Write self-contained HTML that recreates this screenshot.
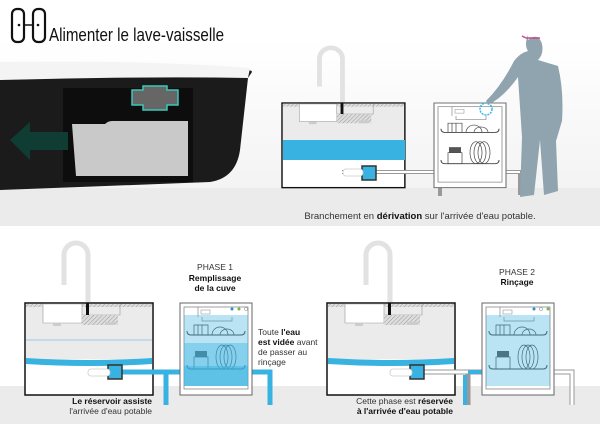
<!DOCTYPE html>
<html><head><meta charset="utf-8"><style>
body{margin:0;width:600px;height:424px;overflow:hidden;background:#fff;font-family:"Liberation Sans",sans-serif}
</style></head><body>
<svg width="600" height="424" viewBox="0 0 600 424" xmlns="http://www.w3.org/2000/svg" font-family="Liberation Sans, sans-serif">
<defs>
<pattern id="h" width="3" height="3" patternUnits="userSpaceOnUse" patternTransform="rotate(45)"><rect width="3" height="3" fill="#ddd"/><line x1="0" y1="0" x2="0" y2="3" stroke="#888" stroke-width="0.8"/></pattern>
<linearGradient id="bg" x1="0" y1="0" x2="0" y2="1"><stop offset="0" stop-color="#fff"/><stop offset="1" stop-color="#f3f3f3"/></linearGradient>
<g id="sink">
 <path d="M63,2 V-48 a12,12 0 0 0 -24,0 V-18" fill="none" stroke="#e2e2e2" stroke-width="5"/>
 <rect x="0" y="0" width="128" height="92" fill="#fff" stroke="#111" stroke-width="1.5"/>
 <path d="M1,1 H127 V60 Q64,52 1,60 Z" fill="#ebebeb"/>
 <rect x="1" y="1" width="126" height="3" fill="url(#h)"/>
 <path d="M18,1 V20 H57 V1 Z" fill="#fff" stroke="#999" stroke-width="0.6"/>
 <path d="M57,12 H95 V1" fill="none" stroke="#999" stroke-width="0.6"/>
 <rect x="57" y="12" width="36" height="10" fill="url(#h)"/>
 <rect x="61" y="0" width="3" height="12" fill="#111"/>
 <rect x="28" y="20" width="8" height="3" fill="#ccc"/><rect x="80" y="19" width="10" height="3" fill="#ccc"/>
</g>
<g id="dw">
 <rect x="0" y="0" width="72" height="92" fill="#fff" stroke="#666" stroke-width="1"/>
 <rect x="4" y="4" width="64" height="82" fill="none" stroke="#888" stroke-width="0.8"/>
 <line x1="18" y1="4" x2="18" y2="14" stroke="#888" stroke-width="0.7"/>
 <rect x="21" y="7" width="9" height="4" fill="none" stroke="#999" stroke-width="0.6"/>
 <path d="M22,14 v4 h30 v-4" fill="none" stroke="#888" stroke-width="0.7"/>
 <path d="M7,28 q0,4 4,4 h50 q4,0 4,-4 M7,62 q0,4 4,4 h50 q4,0 4,-4" fill="none" stroke="#444" stroke-width="1"/>
 <path d="M14,32 v-10 h14 v10 M18,22 v10 M22,22 v10" fill="none" stroke="#444" stroke-width="0.7"/>
 <path d="M32,32 a8,8 0 0 1 16,0 M40,32 a7,6 0 0 1 14,0" fill="none" stroke="#444" stroke-width="0.7"/>
 <rect x="14" y="54" width="14" height="12" fill="none" stroke="#444" stroke-width="0.7"/>
 <rect x="15" y="48" width="12" height="6" fill="#555"/>
 <ellipse cx="42" cy="54" rx="6" ry="12" fill="none" stroke="#444" stroke-width="0.7"/>
 <ellipse cx="46" cy="54" rx="6" ry="12" fill="none" stroke="#444" stroke-width="0.7"/>
 <ellipse cx="50" cy="54" rx="6" ry="12" fill="none" stroke="#444" stroke-width="0.7"/>
</g>
</defs>
<rect x="0" y="40" width="600" height="150" fill="url(#bg)"/>
<rect x="0" y="188" width="600" height="38" fill="#ebebeb"/>
<rect x="0" y="386" width="600" height="38" fill="#ebebeb"/>
<!-- title -->
<rect x="12" y="9" width="12" height="33" rx="5" fill="none" stroke="#111" stroke-width="2.2"/>
<rect x="33" y="9" width="12" height="33" rx="5" fill="none" stroke="#111" stroke-width="2.2"/>
<line x1="24" y1="25" x2="33" y2="25" stroke="#111" stroke-width="1.5"/>
<circle cx="19" cy="25" r="1.3" fill="#111"/><circle cx="38" cy="25" r="1.3" fill="#111"/>
<text x="49" y="41" font-size="18" fill="#111" textLength="175" lengthAdjust="spacingAndGlyphs">Alimenter le lave-vaisselle</text>
<!-- device -->
<path d="M0,72 L245,70 Q252,70 252,72 L248,78 L240,150 Q236,178 210,182 L80,187 L0,190 Z" fill="#1b1b1b"/>
<path d="M0,62 Q150,60 250,68 L248,78 Q150,76 0,80 Z" fill="#f4f4f4"/>
<rect x="63" y="88" width="130" height="94" fill="#0d0d0d"/>
<path d="M72,124 H105 Q108,121 112,121 H188 V176 H76 Z" fill="#c9c9c9"/>
<path d="M132,90 H143 V86 H167 V90 H178 V105 H167 V110 H143 V105 H132 Z" fill="#666" stroke="#3cc7b8" stroke-width="1.5"/>
<path d="M10,140 L30,122 V132 H68 V150 H30 V160 Z" fill="#0f3d33"/>
<!-- top sink -->
<g transform="translate(282,103) scale(0.96,0.92)"><use href="#sink"/></g>
<rect x="283" y="140" width="122" height="20" fill="#38b2e0"/>
<path d="M283,160 Q344,153 405,160" fill="#38b2e0"/>
<path d="M342,172 H440 V196 M430,172 H520 V195" fill="none" stroke="#999" stroke-width="4"/>
<path d="M342,172 H440 M430,172 H520" fill="none" stroke="#fff" stroke-width="2"/>
<rect x="362" y="166" width="14" height="14" fill="#38b2e0" stroke="#333" stroke-width="1.5"/>
<rect x="343" y="169" width="20" height="7" rx="3" fill="#fff" stroke="#ccc" stroke-width="0.8"/>
<g transform="translate(434,103) scale(1.0,0.92)"><use href="#dw"/></g>
<circle cx="486" cy="109" r="6" fill="none" stroke="#37b8ea" stroke-width="1.5" stroke-dasharray="2 1"/>
<!-- person -->
<path d="M528,40 q10,-8 14,4 q2,10 -4,16 l20,6 q6,25 4,55 l-6,20 l2,50 l-14,4 l-4,-55 l-6,55 l-14,2 l2,-60 l-4,-60 q-14,20 -30,28 l-2,-4 q16,-16 28,-40 q6,-8 14,-10 q-4,-6 0,-16 Z" fill="#8fa4ae"/>
<path d="M526,38 h14 M522,36 l4,2" stroke="#c04a88" stroke-width="1.5" fill="none"/>
<text x="420" y="219" font-size="9.5" fill="#333" text-anchor="middle">Branchement en <tspan font-weight="bold" fill="#111">dérivation</tspan> sur l'arrivée d'eau potable.</text>
<!-- bottom left -->
<g transform="translate(25,303)"><use href="#sink"/></g>
<line x1="26" y1="340" x2="152" y2="340" stroke="#7cc4e0" stroke-width="0.8"/>
<path d="M26,358 Q89,362 152,358 V364 Q89,368 26,364 Z" fill="#38b2e0"/>
<path d="M115,372 H166 V405 M166,372 H270 V405" fill="none" stroke="#38b2e0" stroke-width="5"/>
<rect x="108" y="365" width="14" height="14" fill="#38b2e0" stroke="#333" stroke-width="1.5"/>
<rect x="88" y="369" width="22" height="7" rx="3" fill="#fff" stroke="#ccc" stroke-width="0.8"/>
<g transform="translate(180,303) scale(1,1)"><use href="#dw"/></g>
<rect x="184" y="315" width="64" height="71" fill="#38b2e0" opacity="0.35"/>
<rect x="184" y="343" width="64" height="43" fill="#38b2e0" opacity="0.4"/>
<rect x="184" y="366" width="64" height="20" fill="#38b2e0" opacity="0.5"/>
<circle cx="232" cy="309" r="1.5" fill="#2a8fd0"/><circle cx="239" cy="309" r="1.5" fill="#7ab34a"/><circle cx="246" cy="309" r="1.5" fill="none" stroke="#999" stroke-width="0.6"/>
<text x="215" y="270" font-size="8.5" fill="#333" text-anchor="middle">PHASE 1</text>
<text x="215" y="281" font-size="8.5" fill="#111" text-anchor="middle" font-weight="bold">Remplissage</text>
<text x="215" y="291" font-size="8.5" fill="#111" text-anchor="middle" font-weight="bold">de la cuve</text>
<text x="258" y="335" font-size="8.5" fill="#333">Toute <tspan font-weight="bold" fill="#111">l'eau</tspan></text>
<text x="258" y="345" font-size="8.5" fill="#111" font-weight="bold">est vidée <tspan font-weight="normal" fill="#333">avant</tspan></text>
<text x="258" y="355" font-size="8.5" fill="#333">de passer au</text>
<text x="258" y="365" font-size="8.5" fill="#333">rinçage</text>
<text x="152" y="404" font-size="8.5" fill="#111" font-weight="bold" text-anchor="end">Le réservoir assiste</text>
<text x="152" y="414" font-size="8.5" fill="#333" text-anchor="end">l'arrivée d'eau potable</text>
<!-- bottom right -->
<g transform="translate(327,303)"><use href="#sink"/></g>
<path d="M328,358 Q391,362 454,358 V364 Q391,368 328,364 Z" fill="#38b2e0"/>
<path d="M415,372 H468 V405 M468,372 H572 V405" fill="none" stroke="#999" stroke-width="5"/>
<path d="M415,372 H468 M468,372 H572 V405" fill="none" stroke="#fff" stroke-width="3"/>
<path d="M465,375 V405 M468,372 H482" stroke="#38b2e0" stroke-width="4" fill="none"/>
<rect x="410" y="365" width="14" height="14" fill="#38b2e0" stroke="#333" stroke-width="1.5"/>
<rect x="390" y="369" width="22" height="7" rx="3" fill="#fff" stroke="#ccc" stroke-width="0.8"/>
<g transform="translate(482,303)"><use href="#dw"/></g>
<rect x="486" y="315" width="64" height="71" fill="#38b2e0" opacity="0.35"/>
<circle cx="534" cy="309" r="1.5" fill="#2a8fd0"/><circle cx="541" cy="309" r="1.5" fill="none" stroke="#999" stroke-width="0.6"/><circle cx="548" cy="309" r="1.5" fill="#7ab34a"/>
<text x="517" y="275" font-size="8.5" fill="#333" text-anchor="middle">PHASE 2</text>
<text x="517" y="285" font-size="8.5" fill="#111" text-anchor="middle" font-weight="bold">Rinçage</text>
<text x="453" y="404" font-size="8.5" fill="#333" text-anchor="end">Cette phase est <tspan font-weight="bold" fill="#111">réservée</tspan></text>
<text x="453" y="414" font-size="8.5" fill="#111" font-weight="bold" text-anchor="end">à l'arrivée d'eau potable</text>
</svg>
</body></html>
